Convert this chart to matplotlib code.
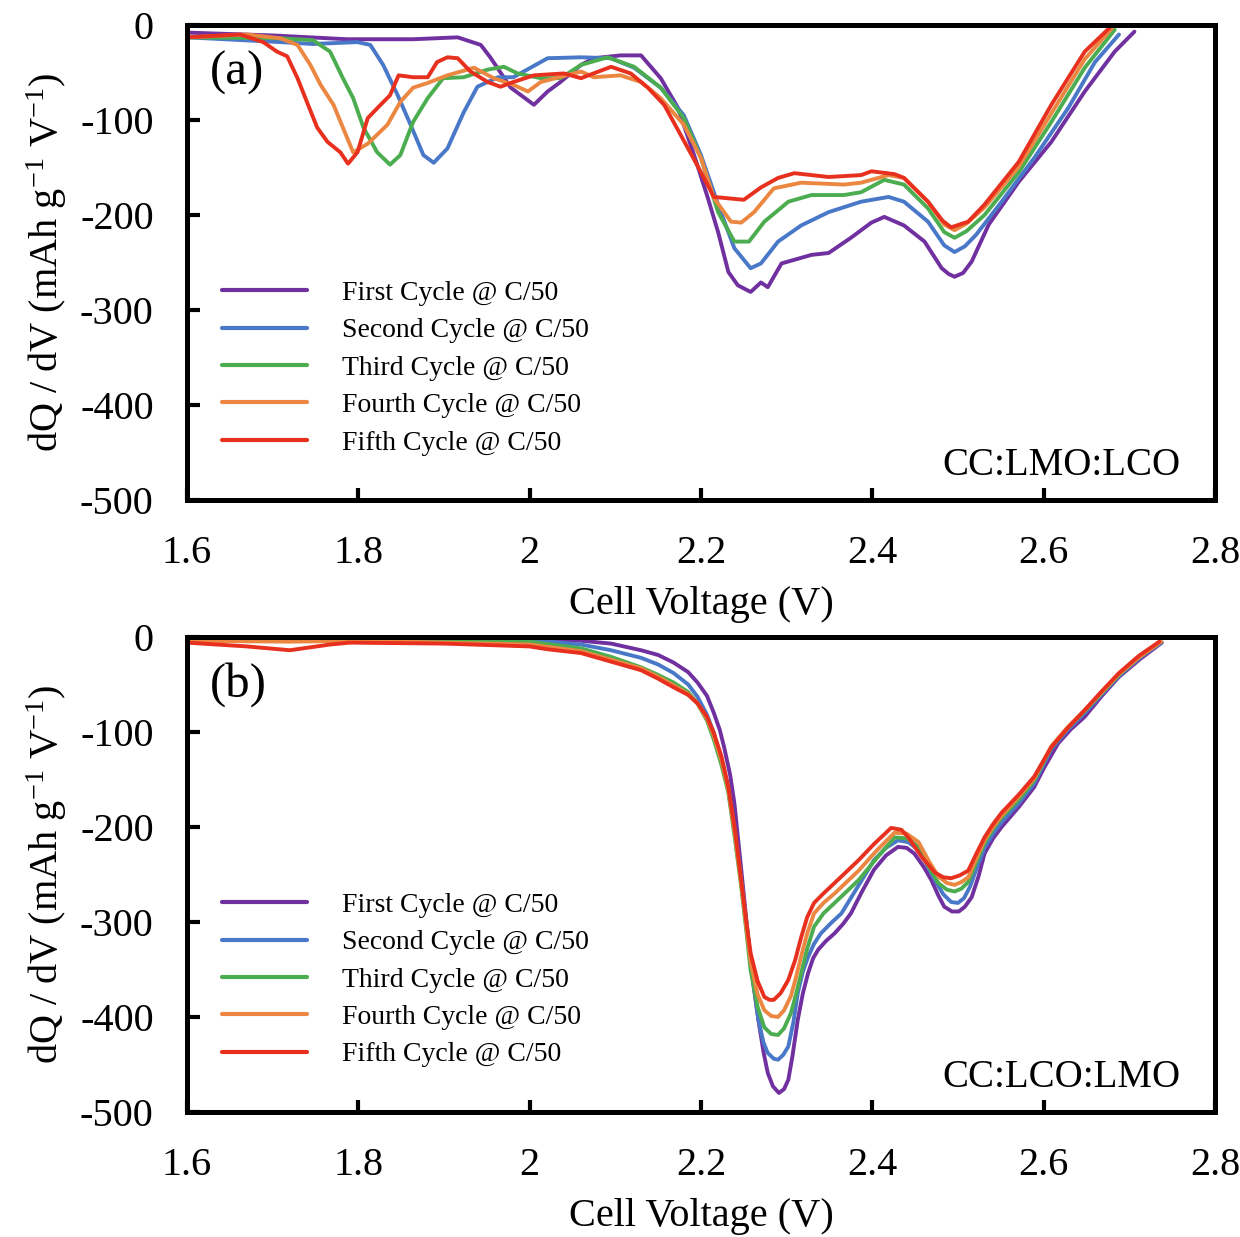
import matplotlib
matplotlib.use("Agg")
import matplotlib.pyplot as plt

plt.rcParams["font.family"] = ["Liberation Serif", "DejaVu Serif"]
plt.rcParams["mathtext.fontset"] = "custom"
plt.rcParams["mathtext.rm"] = "Liberation Serif"
plt.rcParams["mathtext.it"] = "Liberation Serif:italic"
plt.rcParams["axes.unicode_minus"] = False

labels = ["First Cycle @ C/50", "Second Cycle @ C/50", "Third Cycle @ C/50",
          "Fourth Cycle @ C/50", "Fifth Cycle @ C/50"]
colors = ["#7030A0", "#4A78C9", "#4CAD50", "#EB8741", "#E8301F"]

x_ticks = [1.6, 1.8, 2.0, 2.2, 2.4, 2.6, 2.8]
x_tick_labels = ["1.6", "1.8", "2", "2.2", "2.4", "2.6", "2.8"]
y_ticks = [0, -100, -200, -300, -400, -500]

# ---- (a) CC:LMO:LCO ----
a1_v = [1.600, 1.700, 1.787, 1.864, 1.916, 1.943, 1.954, 1.978, 2.005, 2.021, 2.036, 2.060, 2.075,
        2.106, 2.130, 2.153, 2.173, 2.192, 2.208, 2.220, 2.232, 2.243, 2.258, 2.270, 2.278, 2.294,
        2.329, 2.349, 2.375, 2.399, 2.414, 2.437, 2.461, 2.481, 2.489, 2.496, 2.506, 2.516, 2.536,
        2.571, 2.609, 2.648, 2.683, 2.706]
a1_q = [-8, -11, -15, -15, -13, -21, -34, -66, -84, -70, -60, -42, -35,
        -32, -32, -56, -87, -137, -182, -218, -260, -274, -281, -271, -276, -251,
        -242, -240, -224, -208, -202, -211, -228, -256, -262, -265, -261, -249, -210,
        -165, -123, -70, -28, -7]

a2_v = [1.600, 1.709, 1.747, 1.799, 1.814, 1.829, 1.846, 1.861, 1.876, 1.888, 1.904, 1.923, 1.939,
        1.963, 1.981, 2.001, 2.021, 2.060, 2.095, 2.122, 2.153, 2.180, 2.200, 2.220, 2.239, 2.258,
        2.270, 2.290, 2.317, 2.349, 2.387, 2.419, 2.437, 2.465, 2.484, 2.496, 2.508, 2.521, 2.551,
        2.589, 2.629, 2.660, 2.688]
a2_q = [-13, -18, -20, -18, -21, -42, -74, -105, -137, -145, -130, -92, -65,
        -55, -55, -45, -35, -34, -35, -45, -66, -95, -137, -189, -235, -256,
        -251, -228, -211, -197, -186, -181, -186, -207, -232, -239, -233, -221, -186,
        -140, -87, -39, -10]

a3_v = [1.600, 1.709, 1.747, 1.767, 1.782, 1.794, 1.806, 1.822, 1.837, 1.849, 1.864, 1.881, 1.899,
        1.923, 1.951, 1.970, 1.986, 2.013, 2.036, 2.060, 2.091, 2.122, 2.153, 2.180, 2.200, 2.220,
        2.239, 2.256, 2.274, 2.302, 2.329, 2.367, 2.387, 2.414, 2.437, 2.465, 2.484, 2.496, 2.510,
        2.531, 2.571, 2.609, 2.648, 2.683]
a3_q = [-13, -14, -16, -28, -56, -77, -108, -134, -147, -137, -102, -77, -56,
        -55, -47, -44, -51, -56, -56, -42, -34, -44, -66, -98, -140, -197,
        -228, -228, -207, -186, -179, -179, -176, -163, -168, -193, -218, -224, -217,
        -200, -155, -102, -45, -5]

a4_v = [1.600, 1.670, 1.709, 1.729, 1.744, 1.756, 1.771, 1.782, 1.794, 1.811, 1.834, 1.849, 1.864,
        1.881, 1.904, 1.935, 1.958, 1.981, 1.998, 2.013, 2.060, 2.075, 2.106, 2.130, 2.153, 2.180,
        2.200, 2.215, 2.235, 2.247, 2.262, 2.285, 2.317, 2.367, 2.387, 2.419, 2.437, 2.465, 2.484,
        2.496, 2.510, 2.531, 2.571, 2.609, 2.648, 2.680]
a4_q = [-13, -10, -14, -21, -42, -63, -84, -108, -134, -125, -105, -81, -66,
        -61, -53, -45, -56, -63, -70, -60, -49, -55, -53, -60, -77, -105,
        -140, -182, -207, -208, -197, -172, -166, -168, -166, -158, -161, -186, -210,
        -216, -209, -192, -149, -93, -36, -3]

a5_v = [1.600, 1.662, 1.689, 1.705, 1.717, 1.729, 1.740, 1.752, 1.764, 1.779, 1.788, 1.799, 1.811,
        1.826, 1.837, 1.847, 1.864, 1.881, 1.892, 1.904, 1.916, 1.931, 1.951, 1.966, 1.981, 2.005,
        2.040, 2.060, 2.095, 2.118, 2.138, 2.157, 2.185, 2.200, 2.215, 2.250, 2.270, 2.290, 2.309,
        2.349, 2.387, 2.399, 2.426, 2.437, 2.465, 2.482, 2.492, 2.512, 2.531, 2.571, 2.609, 2.648,
        2.677]
a5_q = [-13, -10, -18, -28, -33, -56, -81, -108, -123, -134, -146, -134, -98,
        -84, -74, -53, -55, -55, -39, -34, -35, -49, -60, -65, -60, -53,
        -51, -56, -44, -51, -66, -84, -130, -155, -181, -184, -171, -161, -156,
        -160, -158, -154, -157, -161, -186, -206, -213, -207, -189, -144, -84, -28,
        -3]

# ---- (b) CC:LCO:LMO ----
b1_v = [1.600, 1.800, 2.000, 2.060, 2.095, 2.130, 2.150, 2.168, 2.185, 2.196, 2.207, 2.215, 2.222,
        2.227, 2.234, 2.239, 2.247, 2.255, 2.261, 2.267, 2.273, 2.278, 2.284, 2.291, 2.297, 2.302,
        2.307, 2.313, 2.319, 2.325, 2.331, 2.337, 2.346, 2.356, 2.366, 2.375, 2.388, 2.402, 2.416,
        2.430, 2.440, 2.449, 2.460, 2.469, 2.477, 2.484, 2.493, 2.501, 2.508, 2.516, 2.524, 2.531,
        2.541, 2.551, 2.571, 2.589, 2.601, 2.617, 2.632, 2.648, 2.668, 2.688, 2.713, 2.738]
b1_q = [-2, -1, -2, -4, -7, -14, -19, -27, -37, -48, -62, -80, -98,
        -116, -145, -175, -245, -316, -365, -403, -437, -459, -473, -480, -476, -466,
        -440, -403, -375, -354, -338, -329, -320, -312, -302, -291, -268, -245, -230,
        -221, -222, -228, -242, -256, -272, -284, -289, -289, -284, -274, -252, -228,
        -212, -200, -179, -158, -137, -112, -97, -84, -62, -42, -23, -6]

b2_v = [1.600, 1.800, 2.000, 2.060, 2.095, 2.130, 2.150, 2.168, 2.185, 2.196, 2.207, 2.215, 2.222,
        2.232, 2.238, 2.243, 2.249, 2.255, 2.261, 2.267, 2.273, 2.278, 2.285, 2.290, 2.296, 2.302,
        2.308, 2.313, 2.319, 2.325, 2.332, 2.340, 2.352, 2.364, 2.383, 2.402, 2.416, 2.430, 2.442,
        2.454, 2.464, 2.473, 2.483, 2.492, 2.500, 2.507, 2.514, 2.522, 2.531, 2.541, 2.551, 2.571,
        2.589, 2.609, 2.628, 2.648, 2.668, 2.688, 2.712, 2.737]
b2_q = [-2, -2, -3, -8, -14, -22, -29, -38, -50, -63, -82, -101, -125,
        -158, -195, -227, -270, -316, -362, -403, -427, -438, -444, -445, -440, -431,
        -405, -375, -352, -337, -323, -312, -301, -291, -263, -235, -222, -214, -216,
        -224, -240, -256, -271, -279, -280, -275, -263, -243, -222, -207, -195, -175,
        -154, -118, -98, -80, -60, -41, -22, -6]

b3_v = [1.600, 1.800, 2.000, 2.060, 2.095, 2.130, 2.150, 2.168, 2.185, 2.196, 2.207, 2.215, 2.224,
        2.232, 2.240, 2.247, 2.253, 2.258, 2.266, 2.274, 2.282, 2.290, 2.297, 2.305, 2.311, 2.317,
        2.324, 2.332, 2.343, 2.356, 2.370, 2.384, 2.405, 2.426, 2.440, 2.454, 2.466, 2.477, 2.487,
        2.496, 2.504, 2.512, 2.521, 2.531, 2.541, 2.551, 2.571, 2.589, 2.609, 2.628, 2.648, 2.668,
        2.688, 2.712, 2.737]
b3_q = [-3, -3, -5, -12, -21, -32, -40, -48, -58, -70, -88, -108, -135,
        -164, -215, -263, -310, -351, -389, -411, -418, -419, -412, -396, -376, -354,
        -328, -305, -291, -280, -268, -256, -233, -211, -212, -221, -242, -259, -266,
        -268, -265, -258, -238, -217, -202, -190, -171, -151, -116, -96, -78, -59,
        -40, -21, -5]

b4_v = [1.600, 1.720, 1.800, 2.000, 2.060, 2.095, 2.130, 2.150, 2.168, 2.185, 2.196, 2.207, 2.215,
        2.224, 2.232, 2.240, 2.247, 2.253, 2.258, 2.266, 2.274, 2.282, 2.290, 2.297, 2.305, 2.311,
        2.317, 2.324, 2.332, 2.343, 2.356, 2.370, 2.384, 2.405, 2.426, 2.440, 2.454, 2.466, 2.477,
        2.487, 2.496, 2.504, 2.512, 2.521, 2.531, 2.541, 2.551, 2.571, 2.589, 2.609, 2.628, 2.648,
        2.668, 2.688, 2.712, 2.737]
b4_q = [-4, -5, -4, -8, -15, -24, -33, -42, -51, -60, -70, -86, -104,
        -130, -161, -210, -260, -305, -342, -376, -393, -399, -400, -393, -378, -358,
        -336, -312, -291, -280, -270, -258, -246, -225, -206, -207, -216, -236, -252,
        -259, -261, -258, -253, -234, -214, -200, -188, -168, -149, -115, -95, -77,
        -58, -39, -21, -5]

b5_v = [1.600, 1.670, 1.720, 1.767, 1.790, 1.900, 2.000, 2.021, 2.060, 2.095, 2.130, 2.150, 2.168,
        2.185, 2.196, 2.207, 2.215, 2.224, 2.232, 2.240, 2.247, 2.253, 2.258, 2.266, 2.274, 2.280,
        2.285, 2.293, 2.302, 2.310, 2.317, 2.324, 2.332, 2.343, 2.356, 2.370, 2.384, 2.402, 2.422,
        2.434, 2.442, 2.458, 2.473, 2.483, 2.492, 2.502, 2.512, 2.521, 2.531, 2.541, 2.551, 2.571,
        2.589, 2.609, 2.628, 2.648, 2.668, 2.688, 2.711, 2.735]
b5_q = [-6, -10, -14, -8, -6, -7, -10, -13, -17, -26, -35, -44, -53,
        -61, -70, -84, -101, -126, -158, -205, -256, -300, -333, -362, -379, -382,
        -382, -375, -361, -340, -316, -295, -280, -270, -259, -247, -235, -218, -201,
        -203, -211, -232, -248, -253, -254, -251, -246, -229, -211, -197, -185, -166,
        -147, -116, -96, -77, -57, -38, -20, -5]

panels = [
    ("(a)", "CC:LMO:LCO", [(a1_v, a1_q), (a2_v, a2_q), (a3_v, a3_q), (a4_v, a4_q), (a5_v, a5_q)]),
    ("(b)", "CC:LCO:LMO", [(b1_v, b1_q), (b2_v, b2_q), (b3_v, b3_q), (b4_v, b4_q), (b5_v, b5_q)]),
]

fig = plt.figure(figsize=(12.4, 12.37), dpi=100)
ax_a = fig.add_axes([0.1508, 0.5958, 0.829, 0.384])
ax_b = fig.add_axes([0.1508, 0.1011, 0.829, 0.384])

for ax, (tag, cell, series) in zip([ax_a, ax_b], panels):
    for (v, q), c, lab in zip(series, colors, labels):
        ax.plot(v, q, color=c, lw=2.8, label=lab, solid_joinstyle="round",
                solid_capstyle="round")
    ax.set_xlim(1.6, 2.8)
    ax.set_ylim(-500, 0)
    ax.set_xticks(x_ticks)
    ax.set_xticklabels(x_tick_labels)
    ax.set_yticks(y_ticks)
    ax.tick_params(axis="both", direction="in", length=9, width=3, labelsize=29)
    ax.tick_params(axis="x", pad=25)
    ax.tick_params(axis="y", pad=24)
    for s in ax.spines.values():
        s.set_linewidth(3.6)
    ax.set_xlabel("Cell Voltage (V)", fontsize=29, labelpad=10)
    ax.set_ylabel(r"dQ / dV (mAh g$^{-1}$ V$^{-1}$)", fontsize=29, labelpad=8)
    ax.text(0.022, 0.90, tag, transform=ax.transAxes, fontsize=35, ha="left", va="center")
    ax.text(0.966, 0.072, cell, transform=ax.transAxes, fontsize=28, ha="right", va="center")
    leg = ax.legend(loc="upper left", bbox_to_anchor=(0.034, 0.462), frameon=False,
                    fontsize=20, handlelength=3.06, handletextpad=1.26, labelspacing=0.43,
                    borderpad=0, borderaxespad=0)
    for h in leg.get_lines():
        h.set_linewidth(3)

fig.savefig("out.png", dpi=100)
